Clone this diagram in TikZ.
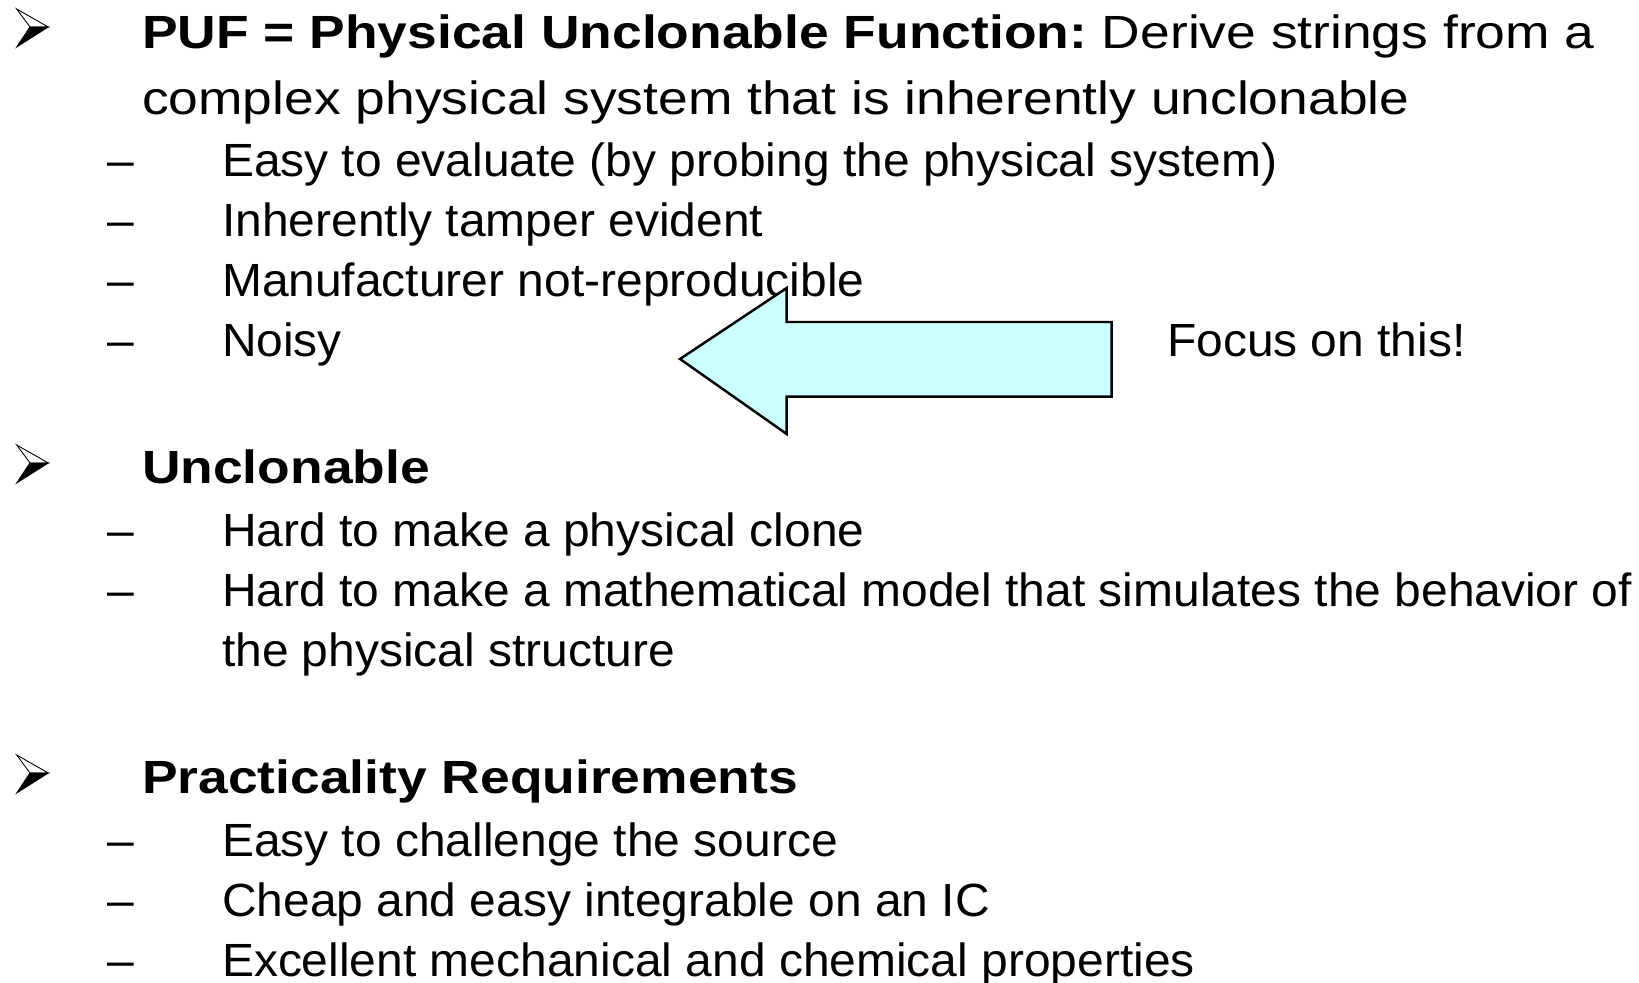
\documentclass[tikz,border=0pt]{standalone}
\usepackage{fontspec}
\setmainfont{Liberation Sans}[FakeStretch=1.03]
\newfontfamily\headfont{Liberation Sans}[FakeStretch=1.147]
\definecolor{arrowcyan}{HTML}{CCFFFF}

\tikzset{
  pointer/.pic={
    \filldraw[fill=white,line width=0.5pt] (16.7,-38) -- (48.3,-20) -- (30,-20) -- cycle;
    \filldraw[fill=black,line width=0.5pt] (30,-20) -- (48.3,-20) -- (16.7,0) -- cycle;
  }
}

\begin{document}
\begin{tikzpicture}[x=0.02cm,y=-0.02cm]

      \useasboundingbox (0,0) rectangle (1639,983);

      \coordinate (b1) at (0,47);
      \coordinate (b2) at (0,483);
      \coordinate (b3) at (0,793);
      \pic at (b1) {pointer};
      \pic at (b2) {pointer};
      \pic at (b3) {pointer};

      \begin{scope}[every node/.style={anchor=base west,inner sep=0pt,font=\headfont\fontsize{26.5}{30}\selectfont}]
        \node (puf)   at (141.7,48.3)  {\bfseries PUF = Physical Unclonable Function:\mdseries\ Derive strings from a};
        \node (puf2)  at (141.7,115)   {complex physical system that is inherently unclonable};
        \node (uncl)  at (141.7,483.3) {\bfseries Unclonable};
        \node (pract) at (141.7,793.3) {\bfseries Practicality Requirements};
      \end{scope}

      \begin{scope}[every node/.style={anchor=base west,inner sep=0pt,font=\fontsize{26.5}{30}\selectfont}]
        \node (d1) at (106.7,176.7) {--};
        \node (d2) at (106.7,236.7) {--};
        \node (d3) at (106.7,296.7) {--};
        \node (d4) at (106.7,356.7) {--};
        \node (d5) at (106.7,546.7) {--};
        \node (d6) at (106.7,606.7) {--};
        \node (d7) at (106.7,856.7) {--};
        \node (d8) at (106.7,916.7) {--};
        \node (d9) at (106.7,976.7) {--};

        \node (eval)   at (221.7,176.7) {Easy to evaluate (by probing the physical system)};
        \node (tamper) at (221.7,236.7) {Inherently tamper evident};
        \node (manuf)  at (221.7,296.7) {Manufacturer not-reproducible};
        \node (noisy)  at (221.7,356.7) {Noisy};
        \node (clone)  at (221.7,546.7) {Hard to make a physical clone};
        \node (model)  at (221.7,606.7) {Hard to make a mathematical model that simulates the behavior of};
        \node (model2) at (221.7,666.7) {the physical structure};
        \node (chal)   at (221.7,856.7) {Easy to challenge the source};
        \node (cheap)  at (221.7,916.7) {Cheap and easy integrable on an IC};
        \node (mech)   at (221.7,976.7) {Excellent mechanical and chemical properties};

        \node (focus) at (1166.7,356.7) {Focus on this!};
      \end{scope}

      % block arrow pointing at the noisy item
      \draw[line width=1.4pt,fill=arrowcyan,line join=miter]
        (680,359) -- (786.7,288) -- (786.7,322) -- (1111.7,322)
        -- (1111.7,396.7) -- (786.7,396.7) -- (786.7,434) -- cycle;

    \end{tikzpicture}
\end{document}
